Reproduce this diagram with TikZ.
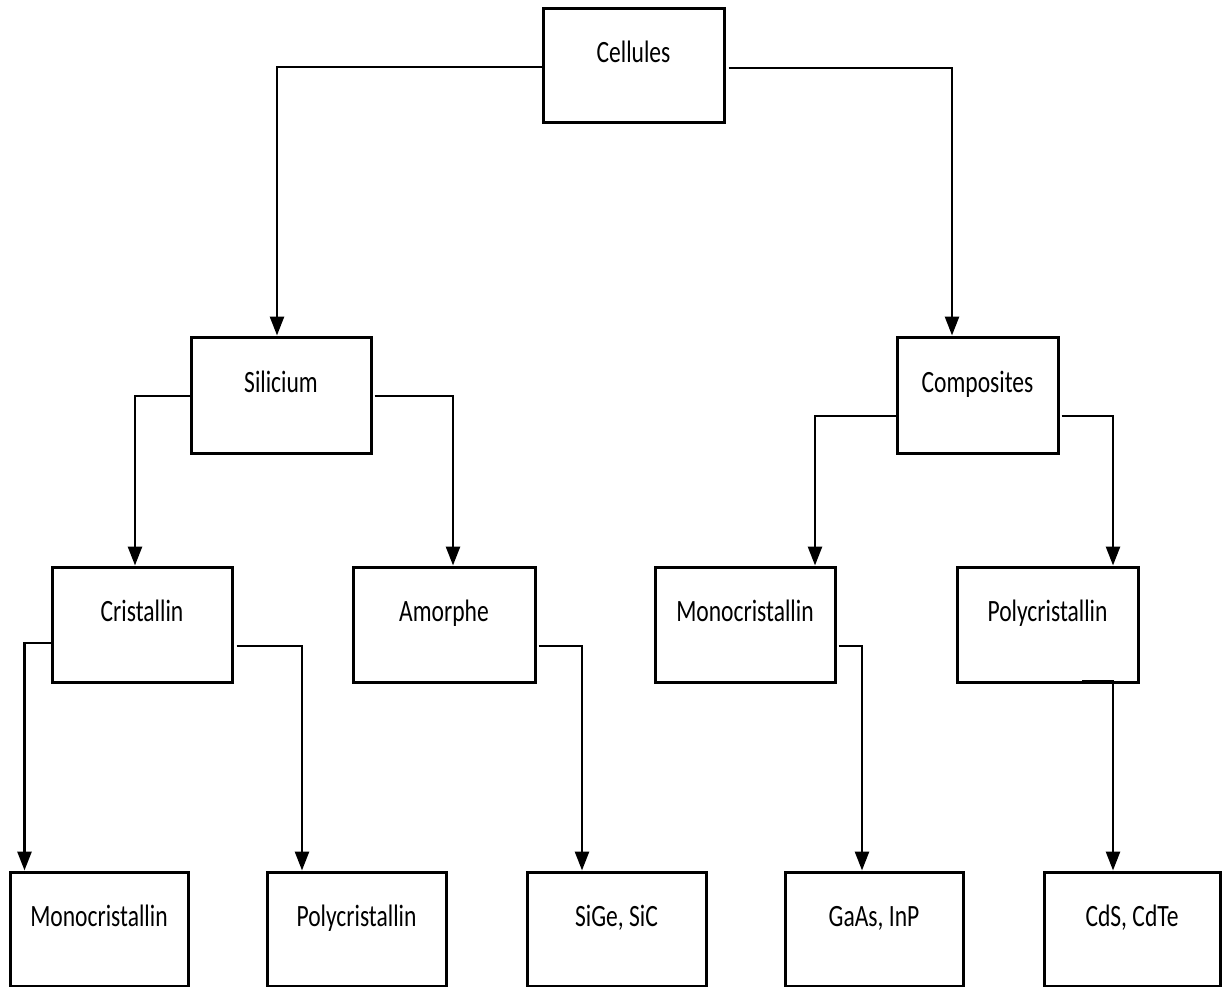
\documentclass[tikz,border=0pt]{standalone}
\usepackage{fontspec}
\setmainfont{Carlito}[FakeStretch=0.76]
\usetikzlibrary{arrows.meta,calc}
\begin{document}
\begin{tikzpicture}[x=1pt,y=-1pt,
 box/.style={draw,line width=3pt,minimum height=115pt,inner sep=0pt,text height=20pt,text depth=26pt,font=\fontsize{31}{37}\selectfont},
 conn/.style={line width=2.7pt,-{Triangle[length=19pt,width=14pt]}}]
\useasboundingbox (0,0) rectangle (1223,987);
\node[box,minimum width=181pt,minimum height=114pt] (cel) at (633.5,66) {Cellules};
\node[box,minimum width=180pt,minimum height=116pt] (sil) at (281,395) {Silicium};
\node[box,minimum width=161pt,minimum height=116pt] (comp) at (977.5,395) {Composites};
\node[box,minimum width=180pt] (cris) at (142,624.5) {Cristallin};
\node[box,minimum width=182pt] (amor) at (444,624.5) {Amorphe};
\node[box,minimum width=180pt] (mono2) at (745,624.5) {Monocristallin};
\node[box,minimum width=181pt] (poly2) at (1047.5,624.5) {Polycristallin};
\node[box,minimum width=178pt,minimum height=114pt] (mono1) at (99,929) {Monocristallin};
\node[box,minimum width=179pt,minimum height=114pt] (poly1) at (356.5,929) {Polycristallin};
\node[box,minimum width=179pt,minimum height=114pt] (sige) at (616.5,929) {SiGe, SiC};
\node[box,minimum width=178pt,minimum height=114pt] (gaas) at (874,929) {GaAs, InP};
\node[box,minimum width=176pt,minimum height=114pt] (cds) at (1132,929) {CdS, CdTe};

\draw[conn] ($(cel.west)+(0,1)$) -| ($(sil.north)+(-4,0)$);
\draw[conn] ($(cel.east)+(3,2)$) -| ($(comp.north)+(-25.5,0)$);
\draw[conn] ($(sil.west)+(0,1)$) -| ($(cris.north)+(-7,0)$);
\draw[conn] ($(sil.east)+(2,1)$) -| ($(amor.north)+(9,0)$);
\draw[conn] ($(comp.west)+(0,21)$) -| ($(mono2.north)+(70,0)$);
\draw[conn] ($(comp.east)+(2,21)$) -| ($(poly2.north)+(65.5,0)$);
\draw[conn] ($(cris.west)+(1,18.5)$) -| ($(mono1.north)+(-74.5,0)$);
\draw[conn] ($(cris.east)+(3,21.5)$) -| ($(poly1.north)+(-54.5,0)$);
\draw[conn] ($(amor.east)+(2,21.5)$) -| ($(sige.north)+(-34.5,0)$);
\draw[conn] ($(mono2.east)+(2,21.5)$) -| ($(gaas.north)+(-12,0)$);
\draw[conn] ($(poly2.south)+(34.5,-2)$) -| ($(cds.north)+(-19,0)$);
\end{tikzpicture}
\end{document}
